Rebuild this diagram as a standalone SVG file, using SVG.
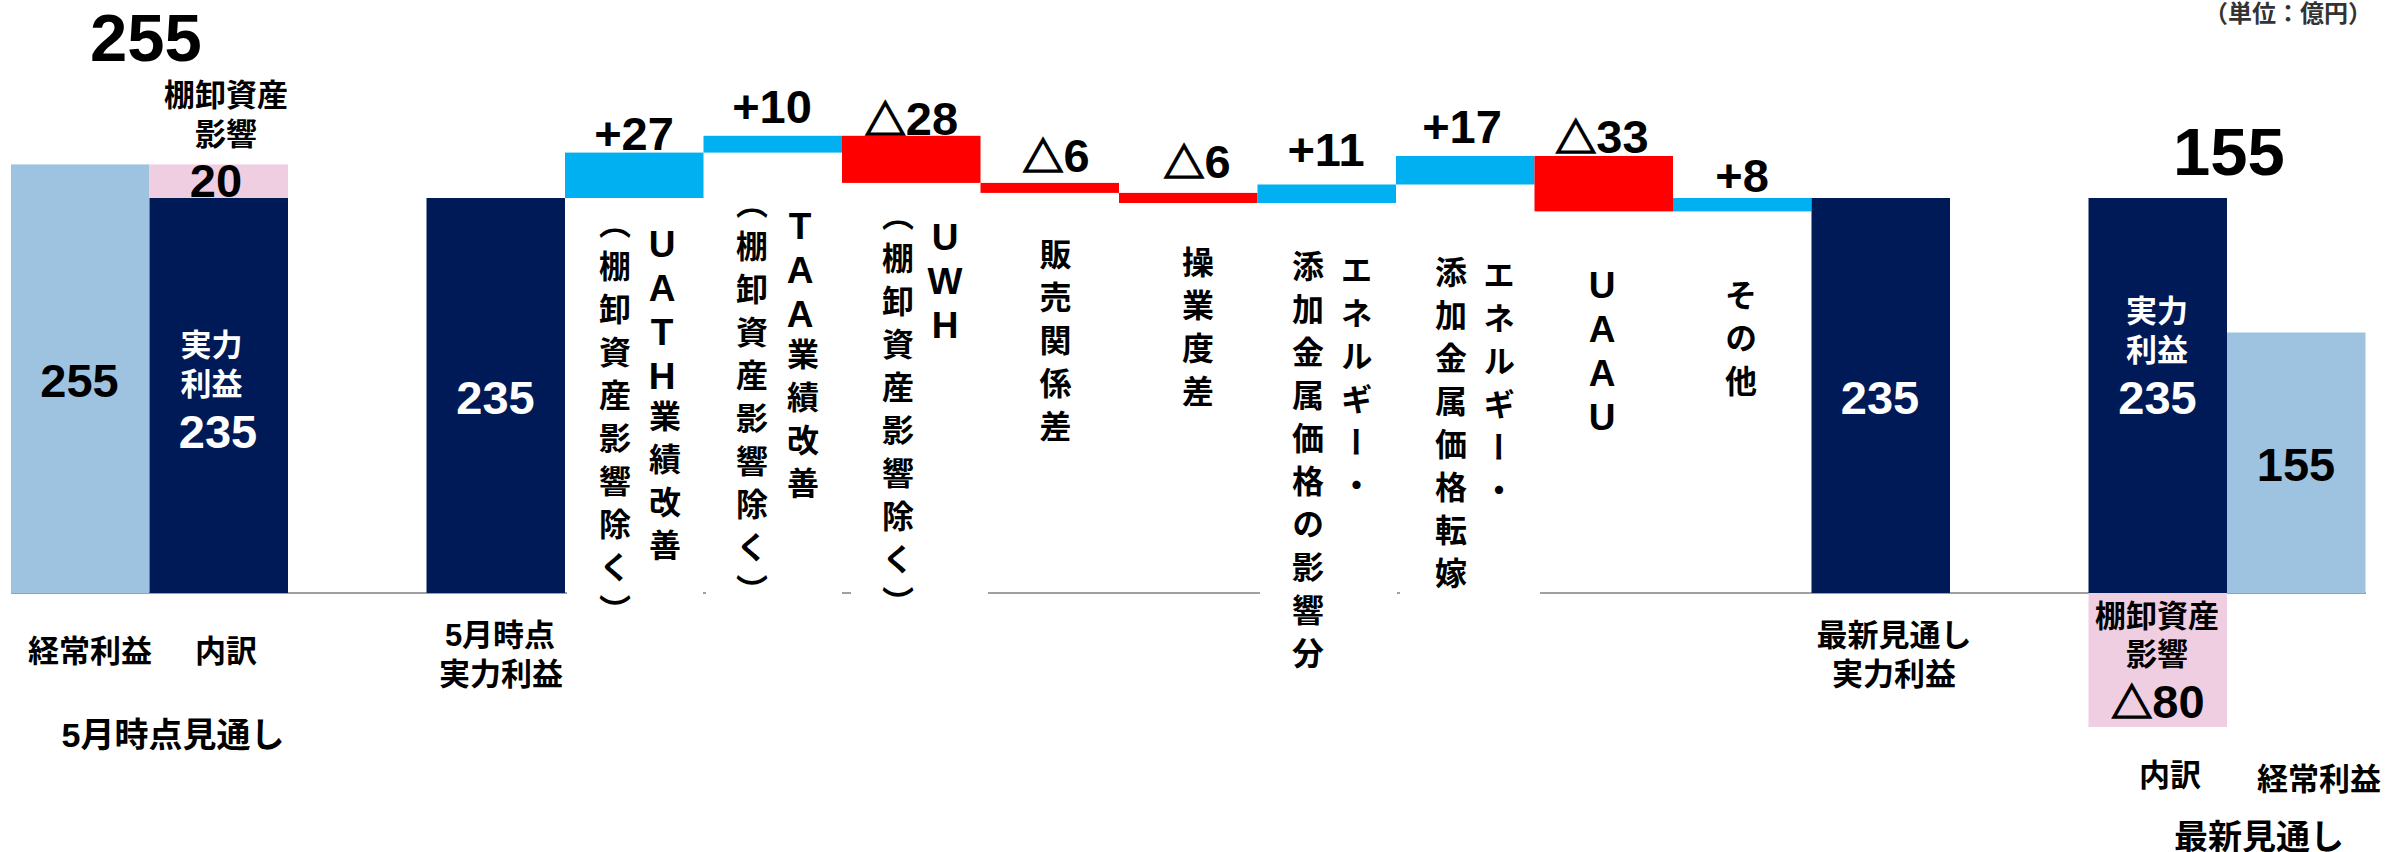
<svg xmlns="http://www.w3.org/2000/svg" width="2385" height="852" viewBox="0 0 2385 852">
<style>
text{font-family:"Liberation Sans","Noto Sans CJK JP",sans-serif;font-weight:bold;fill:#000}
.num{font-size:47px;text-anchor:middle}
.big{font-size:67px;text-anchor:middle}
.w{fill:#fff}
.jp{font-size:31px;text-anchor:middle}
.jpl{font-size:34px;text-anchor:middle}
.v{writing-mode:vertical-rl;font-size:32px;letter-spacing:11px}
.up{text-orientation:upright;font-size:37px;letter-spacing:3px}
.tri{font-family:"Noto Sans CJK JP",sans-serif;font-size:41px;stroke:#000;stroke-width:1.6}
.lb{fill:#9DC3E0}.pk{fill:#F0CEE2}.nv{fill:#001A57}.cy{fill:#00B0F0}.rd{fill:#FF0000}
.axis{stroke:#A0A0A0;stroke-width:2;fill:none}
</style>
<g id="unit"><text x="2372" y="22" style="font-size:24px;fill:#333;text-anchor:end">（単位：億円）</text></g>
<g id="connectors">
<path class="axis" d="M11 593H567M703 593H706M842 593H851M988 593H1260M1397 593H1400M1540 593H2366"/>
</g>
<g id="may-ordinary">
<rect class="lb" x="11" y="164.4" width="138.5" height="428.6"/>
<text class="num" x="79.5" y="397">255</text>
<text class="big" x="146" y="61">255</text>
<text class="jp" x="90" y="662">経常利益</text>
</g>
<g id="may-breakdown">
<rect class="pk" x="149.5" y="164.4" width="138.5" height="33.6"/>
<rect class="nv" x="149.5" y="198" width="138.5" height="395"/>
<text class="jp" x="226" y="106">棚卸資産</text>
<text class="jp" x="226" y="145">影響</text>
<text class="num" x="216" y="197">20</text>
<text class="jp w" x="211.5" y="356">実力</text>
<text class="jp w" x="211.5" y="395">利益</text>
<text class="num w" x="218" y="448">235</text>
<text class="jp" x="226" y="662">内訳</text>
</g>
<g id="may-title"><text class="jpl" x="173" y="747">5月時点見通し</text></g>
<g id="may-real">
<rect class="nv" x="426.5" y="198" width="138.5" height="395"/>
<text class="num w" x="495.5" y="414">235</text>
<text class="jp" x="500" y="646">5月時点</text>
<text class="jp" x="501" y="685">実力利益</text>
</g>
<g id="uath">
<rect class="cy" x="565" y="152.6" width="138.5" height="45.4"/>
<text class="num" x="634" y="150">+27</text>
<text class="v" x="662" y="224"><tspan class="up">UATH</tspan>業績改善</text>
<text class="v" x="612" y="207">（棚卸資産影響除く）</text>
</g>
<g id="taa">
<rect class="cy" x="703.5" y="135.8" width="138.5" height="16.8"/>
<text class="num" x="772" y="123">+10</text>
<text class="v" x="800" y="206"><tspan class="up">TAA</tspan>業績改善</text>
<text class="v" x="749" y="187">（棚卸資産影響除く）</text>
</g>
<g id="uwh">
<rect class="rd" x="842" y="135.8" width="138.5" height="47.1"/>
<text class="num" x="911.5" y="135"><tspan class="tri">△</tspan>28</text>
<text class="v" x="945" y="217"><tspan class="up">UWH</tspan></text>
<text class="v" x="895" y="199">（棚卸資産影響除く）</text>
</g>
<g id="sales">
<rect class="rd" x="980.5" y="182.9" width="138.5" height="10"/>
<text class="num" x="1056" y="172"><tspan class="tri">△</tspan>6</text>
<text class="v" x="1052.5" y="238">販売関係差</text>
</g>
<g id="operation">
<rect class="rd" x="1119" y="192.9" width="138.5" height="10.1"/>
<text class="num" x="1197" y="178"><tspan class="tri">△</tspan>6</text>
<text class="v" x="1195" y="246">操業度差</text>
</g>
<g id="energy-impact">
<rect class="cy" x="1257.5" y="184.5" width="138.5" height="18.5"/>
<text class="num" x="1326" y="166">+11</text>
<text class="v" x="1353.5" y="254">エネルギー・</text>
<text class="v" x="1305" y="250">添加金属価格の影響分</text>
</g>
<g id="energy-pass">
<rect class="cy" x="1396" y="156" width="138.5" height="28.5"/>
<text class="num" x="1462" y="143">+17</text>
<text class="v" x="1496" y="259">エネルギー・</text>
<text class="v" x="1448" y="256">添加金属価格転嫁</text>
</g>
<g id="uaau">
<rect class="rd" x="1534.5" y="156" width="138.5" height="55.4"/>
<text class="num" x="1602" y="153"><tspan class="tri">△</tspan>33</text>
<text class="v" x="1602" y="265"><tspan class="up">UAAU</tspan></text>
</g>
<g id="other">
<rect class="cy" x="1673" y="198" width="138.5" height="13.4"/>
<text class="num" x="1742" y="192">+8</text>
<text class="v" x="1738" y="279">その他</text>
</g>
<g id="latest-real">
<rect class="nv" x="1811.5" y="198" width="138.5" height="395"/>
<text class="num w" x="1880" y="414">235</text>
<text class="jp" x="1894" y="646">最新見通し</text>
<text class="jp" x="1894" y="685">実力利益</text>
</g>
<g id="latest-breakdown">
<rect class="nv" x="2088.5" y="198" width="138.5" height="395"/>
<rect class="pk" x="2088.5" y="593" width="138.5" height="134"/>
<text class="jp w" x="2157" y="322">実力</text>
<text class="jp w" x="2157" y="361">利益</text>
<text class="num w" x="2157.5" y="414">235</text>
<text class="jp" x="2157" y="627">棚卸資産</text>
<text class="jp" x="2157" y="665">影響</text>
<text class="num" x="2158" y="718"><tspan class="tri">△</tspan>80</text>
<text class="jp" x="2170" y="786">内訳</text>
</g>
<g id="latest-ordinary">
<rect class="lb" x="2227" y="332.5" width="138.5" height="260.5"/>
<text class="num" x="2296" y="481">155</text>
<text class="big" x="2229" y="175">155</text>
<text class="jp" x="2319" y="790">経常利益</text>
</g>
<g id="latest-title"><text class="jpl" x="2259" y="849">最新見通し</text></g>
</svg>
